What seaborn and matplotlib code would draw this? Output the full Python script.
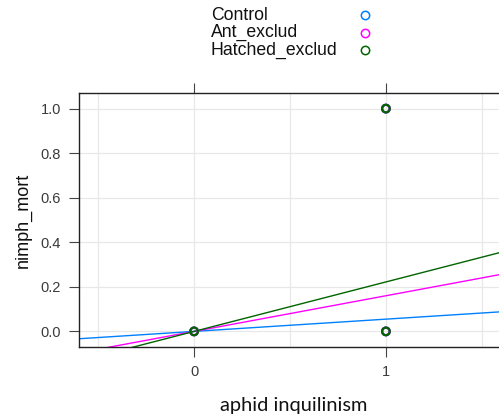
import numpy as np
import pandas as pd
import matplotlib
matplotlib.use("Agg")
import matplotlib.pyplot as plt
from matplotlib.lines import Line2D
import seaborn as sns

sns.set_theme(style="white")
plt.rcParams["font.family"] = ["Liberation Sans", "DejaVu Sans"]

# Treatment groups and their colours
groups = ["Control", "Ant_exclud", "Hatched_exclud"]
colors = ["#0080ff", "#ff00ff", "#006400"]

# Observed points per group (aphid inquilinism, nymph mortality)
obs_group = ["Control", "Control", "Control",
             "Ant_exclud", "Ant_exclud", "Ant_exclud",
             "Hatched_exclud", "Hatched_exclud", "Hatched_exclud"]
obs_x = [0, 1, 1, 0, 1, 1, 0, 1, 1]
obs_y = [0.0, 0.0, 1.0, 0.0, 0.0, 1.0, 0.0, 0.0, 1.0]

# Fitted lines per group
intercepts = [0.0, 0.0, 0.0]
slopes = [0.055, 0.16, 0.222]

y_ticks = [0.0, 0.2, 0.4, 0.6, 0.8, 1.0]
x_ticks = [0, 1]

df = pd.DataFrame({"group": obs_group, "x": obs_x, "y": obs_y})

fig = plt.figure(figsize=(4.99, 4.20), dpi=100)
ax = fig.add_axes([79 / 499, 73 / 420, 422 / 499, 254 / 420])
xlim = (-0.6, 1.6)
ylim = (-0.07, 1.07)

# light grid
for gx in np.arange(-0.5, 1.6, 0.5):
    ax.axvline(gx, color="#e8e8e8", lw=0.9, zorder=0)
for gy in y_ticks:
    ax.axhline(gy, color="#e8e8e8", lw=0.9, zorder=0)

# regression lines
xx = np.array(xlim)
for g, c, a, b in zip(groups, colors, intercepts, slopes):
    line_df = pd.DataFrame({"x": xx, "y": a + b * xx})
    sns.lineplot(data=line_df, x="x", y="y", color=c, lw=1.0, ax=ax,
                 zorder=2, legend=False)

# observations
for g, c in zip(groups, colors):
    sub = df[df["group"] == g]
    ax.scatter(sub["x"], sub["y"], s=30, facecolors="none", edgecolors=c,
               linewidths=1.6, zorder=3)

ax.set_xlim(*xlim)
ax.set_ylim(*ylim)
ax.set_xticks(x_ticks)
ax.set_xticklabels([str(t) for t in x_ticks])
ax.set_yticks(y_ticks)
ax.set_yticklabels([f"{t:.1f}" for t in y_ticks])
ax.tick_params(axis="both", direction="out", length=7, width=0.8,
               color="#444444", labelsize=10.5, labelcolor="#3a3a3a", pad=6)
ax.tick_params(axis="x", top=True, labeltop=False, bottom=True)
ax.tick_params(axis="y", left=True, right=False)
for side in ["left", "top", "bottom"]:
    ax.spines[side].set_color("#222222")
    ax.spines[side].set_linewidth(1.0)
ax.spines["right"].set_visible(False)

ax.set_xlabel("")
ax.set_ylabel("nimph_mort", fontsize=13, color="#111111", labelpad=6)

fig.text(294 / 499, 1 - 405 / 420, "aphid inquilinism", ha="center",
         va="center", fontsize=14.4, family=["Lato", "DejaVu Sans"],
         color="#111111")

# key above the panel
for i, (g, c) in enumerate(zip(groups, colors)):
    yy = 1 - (15 + 17.5 * i) / 420
    fig.text(211 / 499, yy, g, ha="left", va="center", fontsize=12.7,
             color="#111111")
    fig.add_artist(Line2D([365 / 499], [yy], marker="o", markersize=6,
                          markerfacecolor="none", markeredgecolor=c,
                          markeredgewidth=1.1, linestyle="none",
                          transform=fig.transFigure))

fig.savefig("out.png", dpi=100)
